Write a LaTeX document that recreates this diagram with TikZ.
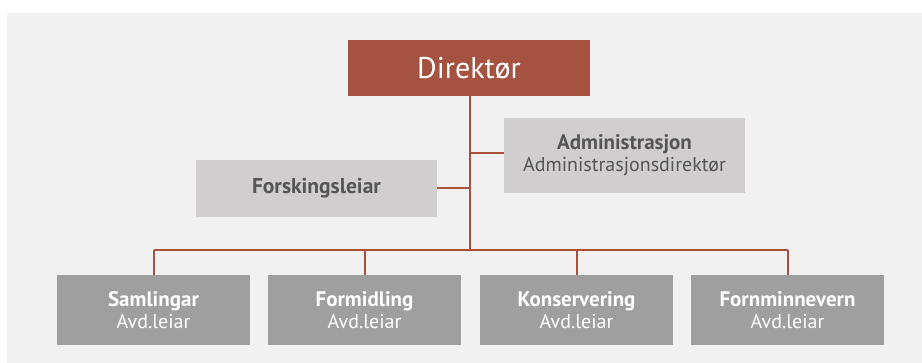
\documentclass[tikz,border=0pt]{standalone}
\usepackage{fontspec}
\setmainfont{PT Sans}
\definecolor{bg}{HTML}{F1F1F1}
\definecolor{direk}{HTML}{A65240}
\definecolor{lightbox}{HTML}{D0CECE}
\definecolor{darkbox}{HTML}{9F9F9F}
\definecolor{conn}{HTML}{AA4F3C}
\definecolor{txtgray}{HTML}{555555}
\tikzset{
  topbox/.style={fill=direk, text=white, minimum width=242pt, minimum height=56pt, inner sep=0pt, font=\fontsize{30}{32}\selectfont},
  staffbox/.style={fill=lightbox, text=txtgray, minimum width=241pt, inner sep=0pt, align=center},
  deptbox/.style={fill=darkbox, text=white, minimum width=193pt, minimum height=70pt, inner sep=0pt, align=center, font=\fontsize{20}{21.5}\selectfont},
  link/.style={draw=conn, line width=2pt}
}
\begin{document}
\begin{tikzpicture}[x=1pt,y=-1pt]
\useasboundingbox (0,0) rectangle (922,363);
\fill[bg] (7,13) rectangle (922,363);
\node[topbox] (dir) at (469,68) {Direktør};
\node[staffbox, minimum height=75pt, font=\fontsize{20}{22}\selectfont] (adm) at (624.5,155.5) {\textbf{\fontsize{21}{22}\selectfont Administrasjon}\\Administrasjonsdirektør};
\node[staffbox, minimum height=57pt, font=\bfseries\fontsize{21.5}{22}\selectfont] (fors) at (316.5,188.5) {Forskingsleiar};
\node[deptbox] (d1) at (153.5,310) {\textbf{\fontsize{21}{21.5}\selectfont Samlingar}\\Avd.leiar};
\node[deptbox] (d2) at (364.5,310) {\textbf{\fontsize{21}{21.5}\selectfont Formidling}\\Avd.leiar};
\node[deptbox] (d3) at (576.5,310) {\textbf{\fontsize{21}{21.5}\selectfont Konservering}\\Avd.leiar};
\node[deptbox] (d4) at (787.5,310) {\textbf{\fontsize{21}{21.5}\selectfont Fornminnevern}\\Avd.leiar};
\coordinate (bus) at (470,250);
\coordinate (ja) at (470,153);
\coordinate (jf) at (470,188);
\draw[link] (dir.south -| bus) -- (bus);
\draw[link] (ja) -- (adm.west |- ja);
\draw[link] (jf) -- (fors.east |- jf);
\draw[link] (d1.north |- bus) -- (d4.north |- bus);
\foreach \d in {d1,d2,d3,d4} \draw[link] (\d.north |- bus) -- (\d.north);
\end{tikzpicture}
\end{document}
